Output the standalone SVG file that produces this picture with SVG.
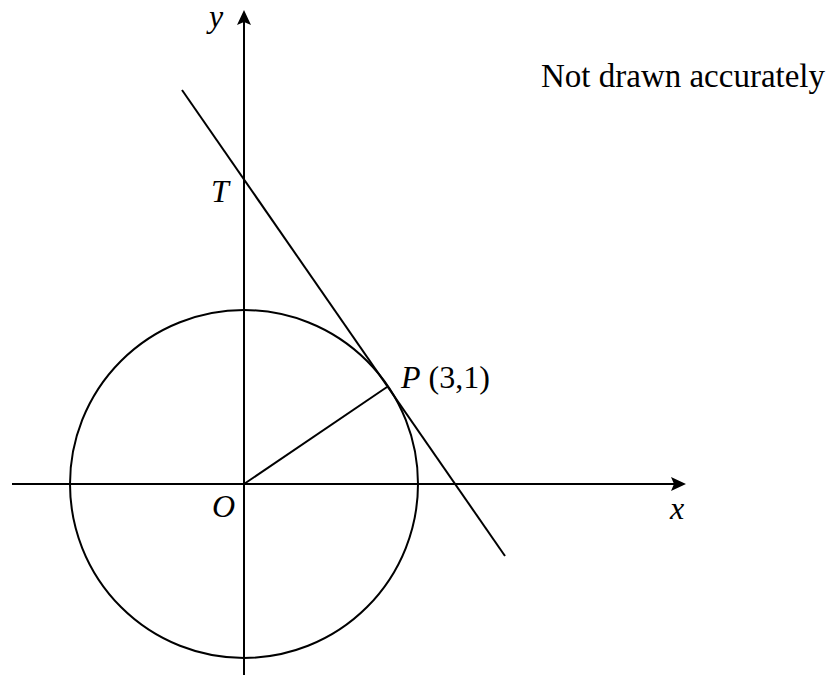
<svg xmlns="http://www.w3.org/2000/svg" width="832" height="675" viewBox="0 0 832 675">
<defs>
<style>
.ln{stroke:#000;stroke-width:2;fill:none}
.t{font-family:"Liberation Serif","Times New Roman",serif;font-size:32px;fill:#000}
.i{font-style:italic}
</style>
</defs>
<rect width="832" height="675" fill="#fff"/>
<g id="connectors">
<line class="ln" x1="12" y1="484" x2="676" y2="484"/>
<polygon points="686,484 671,477 674,484 671,491" fill="#000"/>
<line class="ln" x1="244" y1="675" x2="244" y2="20"/>
<polygon points="244,10 237,25 244,22 251,25" fill="#000"/>
<circle class="ln" cx="244" cy="484" r="174"/>
<line class="ln" x1="182" y1="90" x2="505" y2="556"/>
<line class="ln" x1="244" y1="484" x2="387" y2="387"/>
</g>
<g id="labels">
<text class="t i" x="209" y="27">y</text>
<text class="t i" x="670" y="519">x</text>
<text class="t i" x="211" y="202">T</text>
<text class="t i" x="212" y="517">O</text>
<text class="t" x="401" y="388"><tspan class="i">P</tspan> (3,1)</text>
<text class="t" x="541" y="87" style="font-size:33px">Not drawn accurately</text>
</g>
</svg>
